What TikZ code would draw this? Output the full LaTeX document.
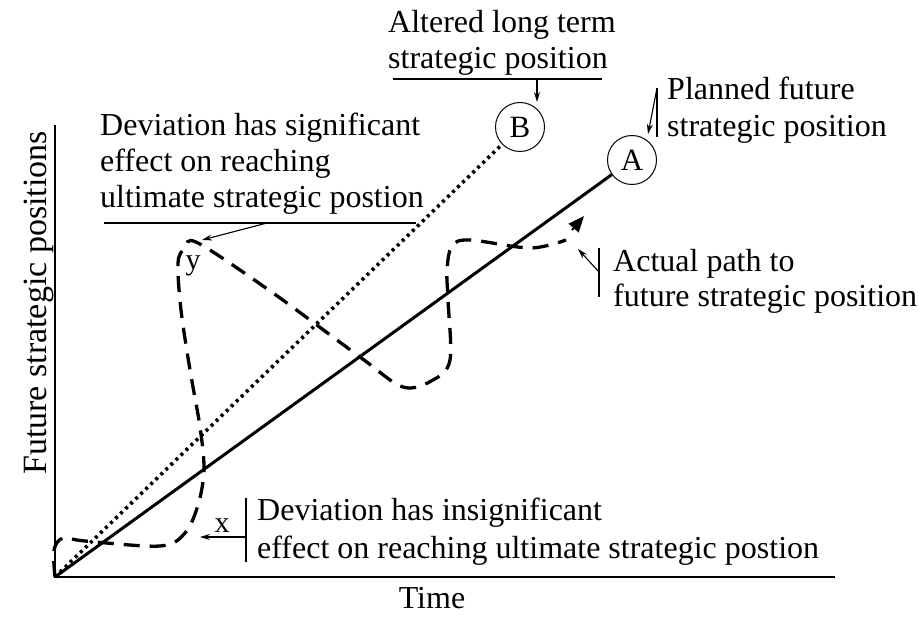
\documentclass[tikz,border=0pt]{standalone}
\usepackage{fontspec}
\setmainfont{Liberation Serif}
\usetikzlibrary{arrows.meta}
\begin{document}
\begin{tikzpicture}[x=1pt,y=-1pt,
  txt/.style={font=\fontsize{32}{38}\selectfont, inner sep=0pt, anchor=base west},
  lbl/.style={font=\fontsize{30}{36}\selectfont, inner sep=0pt},
  axisline/.style={line width=1.3pt},
  plan/.style={line width=3pt},
  altered/.style={line width=3.6pt, dash pattern=on 3pt off 4pt},
  actual/.style={line width=3.3pt, dash pattern=on 16pt off 10pt},
  thinline/.style={line width=1.1pt},
  ptr/.style={line width=1.1pt, -{Stealth[length=10pt,width=6pt]}},
  posnode/.style={circle, draw, line width=1pt, minimum size=49pt, inner sep=0pt, font=\fontsize{31}{36}\selectfont}]
\useasboundingbox (0,0) rectangle (918,617);
% axes
\coordinate (O) at (55,577);
\coordinate (xend) at (835,577);
\coordinate (yend) at (55,125);
\draw[axisline] (yend) -- (O) -- (xend);
% positions
\node[posnode] (A) at (632,160) {A};
\node[posnode] (B) at (520,127) {B};
\draw[plan] (O) -- (A);
\draw[altered] (O) -- (B);
% actual path
\draw[actual] plot[smooth, tension=0.55] coordinates {
 (55,577) (54,550) (63,538) (85,541) (160,546) (185,533) (198,505) (204,470)
 (200,427) (190,370) (181,310) (178,263) (185,248) (198,243) (273,293)
 (360,357) (403,387) (433,380) (450,360) (448,300) (447,270) (452,246) (470,240)
 (530,248) (566,240)};
\coordinate (tipS) at (572,230);
\coordinate (tipE) at (584,216);
\draw[line width=2pt, -{Triangle[length=16pt,width=13pt]}] (tipS) -- (tipE);
% labels x, y
\node[lbl] (xl) at (222,526) {x};
\node[lbl] (yl) at (193,266) {y};
% Altered long term
\node[txt] (alt1) at (388,33) {Altered long term};
\node[txt] (alt2) at (388,69) {strategic position};
\coordinate (ua) at (393,79);
\coordinate (ub) at (602,79);
\draw[thinline] (ua) -- (ub);
\coordinate (aB) at (537,79);
\coordinate (aBe) at (537,102);
\draw[ptr] (aB) -- (aBe);
% Planned future
\node[txt] (pl1) at (667,100) {Planned future};
\node[txt] (pl2) at (667,137) {strategic position};
\coordinate (pa) at (657,88);
\coordinate (pb) at (657,137);
\coordinate (pc) at (648,134);
\draw[thinline] (pa) -- (pb);
\draw[ptr] (pa) -- (pc);
% Significant
\node[txt] (sg1) at (100,136) {Deviation has significant};
\node[txt] (sg2) at (100,172) {effect on reaching};
\node[txt] (sg3) at (100,208) {ultimate strategic postion};
\coordinate (sa) at (104,223);
\coordinate (sb) at (416,223);
\coordinate (sc) at (267,223);
\coordinate (sd) at (202,240);
\draw[thinline] (sa) -- (sb);
\draw[ptr] (sc) -- (sd);
% Actual path
\node[txt] (ac1) at (613,272) {Actual path to};
\node[txt] (ac2) at (613,307) {future strategic position};
\coordinate (aa) at (599,248);
\coordinate (ab) at (599,297);
\coordinate (ac) at (599,272);
\coordinate (ad) at (578,249);
\draw[thinline] (aa) -- (ab);
\draw[ptr] (ac) -- (ad);
% Insignificant
\node[txt] (in1) at (257,520) {Deviation has insignificant};
\node[txt] (in2) at (257,558) {effect on reaching ultimate strategic postion};
\coordinate (ia) at (246,498);
\coordinate (ib) at (246,562);
\coordinate (ic) at (246,537);
\coordinate (id) at (200,537);
\draw[thinline] (ia) -- (ib);
\draw[ptr] (ic) -- (id);
% axis titles
\node[txt, anchor=base] (time) at (432,608) {Time};
\node[txt, anchor=base, rotate=90, font=\fontsize{34}{40}\selectfont] (ylab) at (46,303) {Future strategic positions};
\end{tikzpicture}
\end{document}
